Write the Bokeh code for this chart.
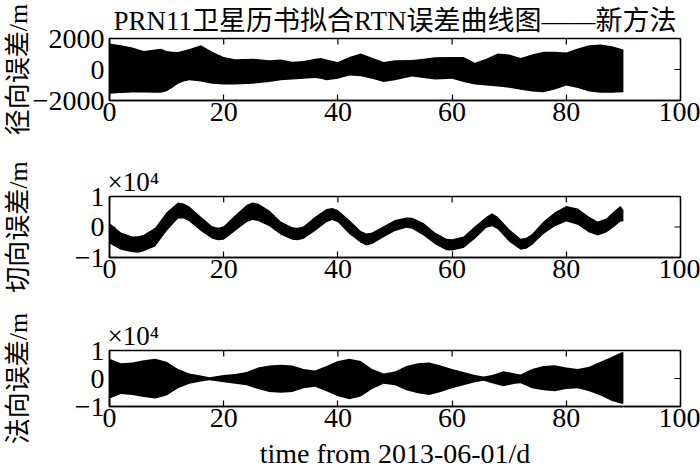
import math
from bokeh.plotting import figure
from bokeh.models import Range1d, FixedTicker
from bokeh.layouts import column
from bokeh.embed import file_html
from bokeh.resources import INLINE

# ---------------- data ----------------
title_text = "PRN11卫星历书拟合RTN误差曲线图——新方法"
y_titles = ["径向误差/m", "切向误差/m", "法向误差/m"]
x_title = "time from 2013-06-01/d"
scale_text = "×10⁴"
x_ticks = [0, 20, 40, 60, 80, 100]

# radial error envelope (m)
r_days = [0, 2, 4, 6, 8, 9, 10, 11, 12, 13, 14, 16, 18, 20, 22, 25, 28, 30, 32, 34,
          36, 37, 38, 40, 42, 44, 46, 48, 50, 53, 55, 57, 60, 62, 64, 66, 68, 70, 72, 74,
          76, 78, 80, 82, 84, 86, 88, 90]
r_upper = [1680, 1570, 1420, 1200, 1290, 1340, 1200, 1140, 1130, 1220, 1330, 1570, 1140, 810, 660, 700, 600, 640, 500, 550,
           700, 740, 640, 490, 810, 1030, 760, 490, 600, 620, 700, 790, 810, 810, 440, 700, 1030, 970, 750, 970,
           1140, 1140, 1090, 1350, 1570, 1610, 1500, 1290]
r_lower = [-1570, -1520, -1480, -1480, -1500, -1500, -1400, -1180, -920, -770, -700, -770, -920, -960, -960, -920, -810, -700, -650, -600,
           -550, -600, -700, -600, -380, -430, -600, -810, -700, -450, -550, -650, -600, -800, -960, -1030, -1090, -1180, -1300, -1420,
           -1460, -1290, -1030, -1200, -1420, -1500, -1500, -1460]

# along-track error envelope (m)
t_days = [0, 2, 4, 5, 6, 8, 10, 12, 13, 14, 16, 18, 19, 20, 22, 24, 25, 26, 28, 30,
          32, 33, 34, 36, 38, 39, 40, 42, 44, 45, 46, 48, 50, 52, 53, 55, 57, 59, 60, 62,
          64, 66, 67, 68, 70, 72, 73, 74, 76, 78, 80, 82, 84, 85.5, 87, 88.5, 89.5, 90]
t_upper = [1280, -1790, -3130, -3030, -2510, -260, 4870, 8000, 7700, 6700, 3330, 260, -260, 260, 3850, 7200, 8000, 7700, 5380, 1790,
           -50, -260, 260, 3330, 5900, 6200, 5600, 2310, -1280, -2100, -1790, 260, 2310, 3130, 3030, 1280, -1790, -3850, -4050, -3130,
           260, 3330, 4500, 3330, -770, -3850, -3540, -2310, 1790, 4870, 6900, 6100, 3330, 1790, 2820, 5380, 6900, 5600]
t_lower = [-5380, -7440, -8260, -8460, -7950, -6410, -1280, 2820, 2820, 1790, -1280, -3850, -4360, -4150, -1280, 1590, 2310, 2000, 260, -2510,
           -4150, -4360, -3850, -1280, 1590, 2310, 1590, -2310, -5180, -6100, -5590, -3330, -1280, -260, -560, -2820, -5690, -7640, -7740, -6920,
           -3850, -260, 260, -770, -4870, -7440, -7130, -5900, -2310, 260, 1790, 770, -1790, -2820, -1790, 260, 1790, 1790]

# cross-track error envelope (m)
n_days = [0, 2, 4, 6, 8, 10, 12, 14, 16, 17.5, 20, 22, 24, 26, 28, 30, 32, 34, 36, 38,
          40, 42, 44, 46, 48, 50, 52, 54, 56, 58, 60, 62, 64, 65.5, 67, 69, 71, 72, 74, 76,
          78, 80, 82, 84, 86, 88, 89.7, 90]
n_upper = [7050, 5470, 5680, 6530, 7050, 6000, 3370, 1790, 1050, 420, 1260, 1580, 2320, 3890, 4630, 4950, 4630, 3370, 2840, 4420,
           6210, 7050, 6210, 3370, 1790, 2530, 4420, 5470, 5680, 4630, 3370, 2320, 1260, 740, 1260, 2630, 1790, 1470, 3370, 4420,
           4740, 3890, 3370, 4210, 6000, 7790, 9370, 9370]
n_lower = [-7160, -5580, -5890, -6630, -7160, -6110, -3470, -1890, -1050, -630, -1370, -1890, -2420, -3790, -4840, -5050, -4840, -3470, -2950, -4530,
           -6320, -7370, -6420, -3790, -1890, -2420, -4210, -5260, -5890, -4840, -3470, -2420, -1370, -840, -1680, -2740, -1890, -1680, -3470, -4210,
           -4530, -3790, -3470, -4530, -6110, -8000, -9050, -9050]

r_yticks = [-2000, 0, 2000]
r_ylabels = ["−2000", "0", "2000"]
e4_yticks = [-10000, 0, 10000]
e4_ylabels = ["−1", "0", "1"]

# ---------------- styling ----------------
FONT = "Liberation Serif, DejaVu Serif, Noto Sans CJK SC"
W = 700
X0, X1 = 0, 100
TICK_FS = "28px"


def style_axis(ax, ticks, labels, size, standoff):
    ax.ticker = FixedTicker(ticks=ticks)
    ax.minor_tick_line_color = None
    ax.major_tick_in = 6
    ax.major_tick_out = 0
    ax.major_tick_line_color = "black"
    ax.major_tick_line_width = 1.2
    ax.axis_line_color = "black"
    ax.axis_line_width = 1.5
    ax.major_label_text_font = FONT
    ax.major_label_text_color = "black"
    ax.major_label_text_font_size = size
    ax.major_label_standoff = standoff
    ax.major_label_overrides = {float(t): l for t, l in zip(ticks, labels)}
    ax.axis_label_text_font = FONT
    ax.axis_label_text_font_style = "normal"
    ax.axis_label_text_color = "black"


def make_panel(height, top, bottom, days, upper, lower, yrange, yticks, ylabels, ytitle, label_standoff):
    p = figure(width=W, height=height, x_range=Range1d(X0, X1), y_range=Range1d(*yrange),
               output_backend="svg", toolbar_location=None,
               min_border_left=109, min_border_right=W - 680,
               min_border_top=top, min_border_bottom=bottom)
    p.grid.visible = False
    p.outline_line_color = "black"
    p.outline_line_width = 1.5
    p.background_fill_color = "white"
    p.border_fill_color = "white"

    style_axis(p.below[0], x_ticks, [str(t) for t in x_ticks], TICK_FS, 2)
    style_axis(p.left[0], yticks, ylabels, TICK_FS, 5)
    p.left[0].axis_label = ytitle
    p.left[0].axis_label_text_font_size = "26px"
    p.left[0].axis_label_standoff = label_standoff

    # inward ticks on the top and right edges
    p.ray(x=x_ticks, y=[yrange[1]] * len(x_ticks), length=6, length_units="screen",
          angle=-math.pi / 2, line_color="black", line_width=1.2)
    p.ray(x=[X1] * len(yticks), y=yticks, length=6, length_units="screen",
          angle=math.pi, line_color="black", line_width=1.2)

    p.varea(x=days, y1=lower, y2=upper, fill_color="black", fill_alpha=1.0)
    return p


p1 = make_panel(140, 38, 40, r_days, r_upper, r_lower, (-2000, 2000), r_yticks, r_ylabels, y_titles[0], -3)
p1.title.text = title_text
p1.title.align = "center"
p1.title.vertical_align = "top"
p1.title.text_font = FONT
p1.title.text_font_size = "27px"
p1.title.text_font_style = "normal"
p1.title.text_color = "black"
p1.title.standoff = 2

p2 = make_panel(157, 56, 40, t_days, t_upper, t_lower, (-10000, 10000), e4_yticks, e4_ylabels, y_titles[1], 39)
p3 = make_panel(174, 53, 59, n_days, n_upper, n_lower, (-10000, 10000), e4_yticks, e4_ylabels, y_titles[2], 39)

for p in (p2, p3):
    p.title.text = scale_text
    p.title.align = "left"
    p.title.offset = -2
    p.title.text_font = FONT
    p.title.text_font_size = "27px"
    p.title.text_font_style = "normal"
    p.title.text_color = "black"
    p.title.standoff = 0

p3.below[0].axis_label = x_title
p3.below[0].axis_label_text_font_size = "28px"
p3.below[0].axis_label_standoff = 8

layout = column(p1, p2, p3, spacing=0)
open("out.html", "w").write(file_html(layout, INLINE))
